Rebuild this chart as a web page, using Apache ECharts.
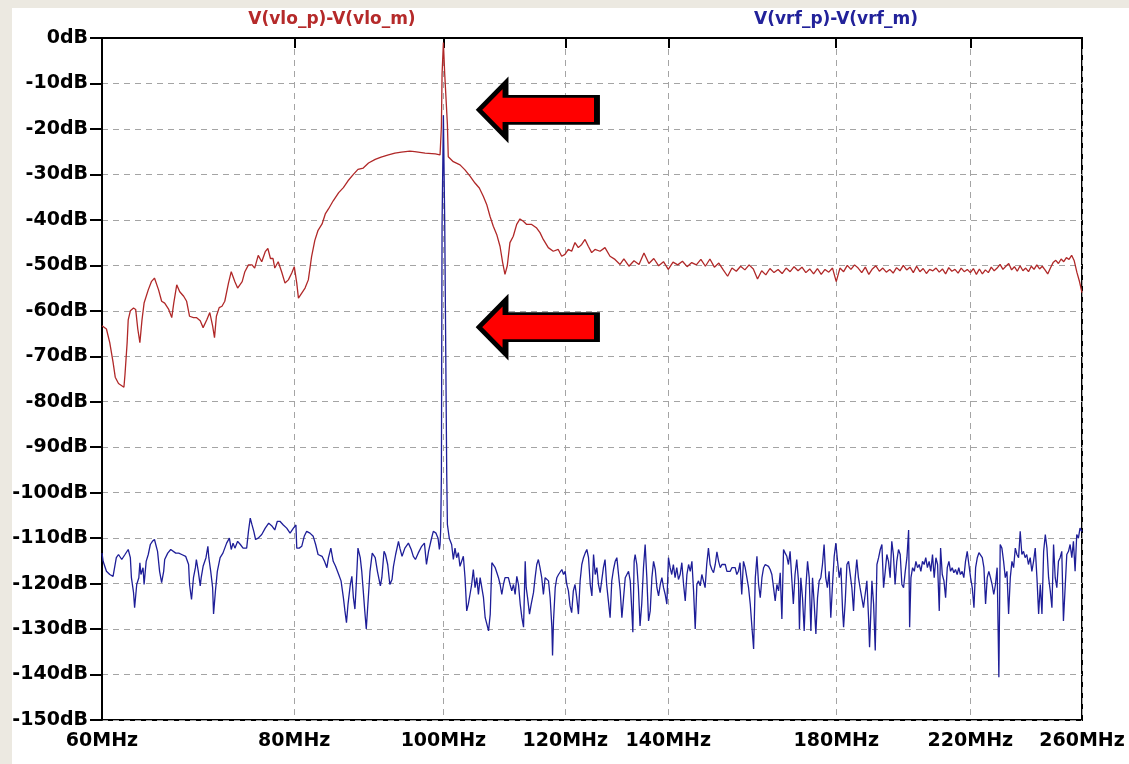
<!DOCTYPE html>
<html>
<head>
<meta charset="utf-8">
<script src="https://cdn.jsdelivr.net/npm/echarts@6/dist/echarts.min.js"></script>
<style>
  html, body { margin: 0; padding: 0; background: #ece9e1; }
  #chart { width: 1129px; height: 764px; }
</style>
</head>
<body>
<div id="chart"></div>
<script>
// Frequency axis ticks (MHz) and level axis range (dB)
const freqTicks = [60, 80, 100, 120, 140, 180, 220, 260];
const dbMin = -150, dbMax = 0, dbStep = 10;

// V(vlo_p)-V(vlo_m) : frequency (MHz) / level (dB)
const loFreq = [
  60.0, 60.4, 60.7, 61.0, 61.2, 61.5, 62.0, 62.1, 62.3, 62.4, 62.6, 62.9, 63.1, 63.3, 63.5, 63.7, 63.9, 64.3, 64.6, 64.9,
  65.3, 65.6, 65.9, 66.3, 66.6, 66.8, 67.1, 67.4, 67.8, 68.1, 68.4, 68.8, 69.1, 69.5, 69.8, 70.2, 70.5, 70.8, 71.0, 71.2,
  71.5, 71.8, 72.1, 72.5, 72.8, 73.2, 73.5, 74.0, 74.3, 74.7, 75.1, 75.4, 75.8, 76.2, 76.6, 76.9, 77.2, 77.5, 77.7, 78.1,
  78.5, 78.9, 79.3, 79.7, 80.0, 80.3, 80.5, 80.9, 81.3, 81.7, 82.1, 82.5, 82.9, 83.4, 83.8, 84.2, 84.8, 85.5, 86.1, 86.7,
  87.4, 88.0, 88.7, 89.4, 90.3, 91.1, 92.1, 93.0, 93.9, 95.1, 95.8, 97.3, 98.8, 99.5, 99.65, 99.7, 99.8, 100.0, 100.2, 100.5,
  100.6, 100.73, 101.49, 102.52, 103.28, 104.06, 104.84, 105.52, 106.15, 106.69, 107.22, 107.75, 108.30, 108.84, 109.27, 109.65, 110.03, 110.47, 111.02, 111.59,
  112.14, 112.70, 113.27, 114.12, 114.98, 115.55, 116.12, 116.99, 117.87, 118.75, 119.36, 119.95, 120.55, 121.16, 121.76, 122.37, 122.99, 123.60, 124.21, 124.84,
  125.46, 126.41, 127.35, 128.31, 129.27, 130.25,
  131, 132, 133, 134, 135, 136, 137, 138, 139, 140, 141, 142, 143, 144, 145, 146, 147, 148, 149, 150,
  151, 152, 153, 154, 155, 156, 157, 158, 159, 160, 161, 162, 163, 164, 165, 166, 167, 168, 169, 170,
  171, 172, 173, 174, 175, 176, 177, 178, 179, 180, 181, 182, 183, 184, 185, 186, 187, 188, 189, 190,
  191, 192, 193, 194, 195, 196, 197, 198, 199, 200, 201, 202, 203, 204, 205, 206, 207, 208, 209, 210,
  211, 212, 213, 214, 215, 216, 217, 218, 219, 220, 221, 222, 223, 224, 225, 226, 227, 228, 229, 230,
  231, 232, 233, 234, 235, 236, 237, 238, 239, 240, 241, 242, 243, 244, 245, 246, 247, 248, 249, 250,
  251, 252, 253, 254, 255, 256, 257, 258, 259, 260
];
const loDb = [
  -63.3, -64, -67, -71.3, -74.6, -76, -76.8, -74, -67, -62, -60, -59.4, -59.7, -64, -67, -62, -58.3, -55.4, -53.6, -52.8,
  -55.4, -57.9, -58.3, -59.7, -61.5, -58.3, -54.3, -55.8, -56.8, -57.9, -61.2, -61.5, -61.5, -62.2, -63.7, -61.9, -60.4, -63.3, -65.9, -61.2,
  -59.3, -59, -57.9, -53.9, -51.4, -53.6, -55, -53.6, -51.4, -49.9, -49.9, -50.6, -47.8, -49.2, -47, -46.3, -48.5, -48.5, -50.6, -49.2,
  -51.4, -53.9, -53.2, -51.7, -50.3, -53.9, -57.2, -56.1, -55, -53.2, -48.1, -44.5, -42.3, -40.9, -38.7, -37.6, -35.8, -34, -32.9, -31.4,
  -30, -28.9, -28.6, -27.5, -26.7, -26.2, -25.7, -25.3, -25.1, -24.9, -25, -25.3, -25.5, -25.7, -26.0, -19.5, -8, -1, -8, -8,
  -19, -26.1, -27.2, -27.9, -29, -30.4, -31.9, -33, -34.8, -36.6, -39.2, -41.4, -43.2, -45.8, -49.4, -52, -50.1, -45, -43.6, -41,
  -39.8, -40.3, -41, -41, -41.8, -42.8, -44.3, -46.1, -46.9, -46.5, -48, -47.6, -46.5, -46.9, -45, -46.1, -45.4, -44.3, -45.8, -47.2,
  -46.5, -46.9, -46.1, -48, -48.7, -49.8,
  -48.6, -50.2, -49.0, -49.8, -47.3, -49.6, -48.5, -50.1, -49.2, -50.9, -49.3, -49.9, -49.1, -50.3, -49.4, -49.9, -48.7, -50.2, -48.6, -50.4,
  -49.5, -51.0, -52.4, -50.6, -51.3, -50.2, -51.0, -49.9, -50.8, -53.0, -51.2, -52.1, -50.7, -51.6, -50.9, -51.8, -50.6, -51.4, -50.3, -51.2,
  -50.4, -51.6, -50.8, -51.9, -50.7, -52.0, -50.9, -51.5, -50.6, -53.6, -50.6, -51.4, -50.0, -50.9, -49.9, -50.6, -51.6, -50.4, -52.0, -50.8,
  -50.1, -51.3, -50.6, -51.5, -50.9, -51.7, -50.5, -51.2, -50.0, -51.0, -50.4, -51.6, -50.2, -51.4, -50.7, -51.8, -50.9, -51.2, -50.6, -51.5,
  -50.8, -51.9, -50.5, -51.3, -50.9, -51.7, -50.6, -51.4, -50.9, -51.6, -50.7, -52.0, -50.8, -51.9, -51.0, -51.6, -50.4, -51.2, -50.6, -49.8,
  -50.9, -50.2, -49.6, -51.0, -50.3, -51.3, -50.1, -51.2, -50.6, -51.4, -50.2, -50.9, -49.9, -50.8, -50.2, -51.0, -51.9, -50.6, -49.4, -48.9,
  -49.6, -48.6, -49.2, -48.3, -48.7, -47.8, -49.0, -51.5, -53.5, -56.0
];

// V(vrf_p)-V(vrf_m) : frequency (MHz) / level (dB)
const rfFreq = [
  60.0, 60.1, 60.4, 60.7, 61.0, 61.3, 61.5, 61.8, 62.1, 62.4, 62.6, 62.7, 62.9, 63.0, 63.2, 63.4, 63.5, 63.6, 63.8, 63.9,
  64.1, 64.3, 64.5, 64.7, 64.9, 65.2, 65.4, 65.6, 65.8, 65.9, 66.2, 66.5, 67.0, 67.3, 67.6, 68.0, 68.3, 68.4, 68.6, 68.8,
  69.0, 69.1, 69.3, 69.5, 69.6, 69.8, 70.1, 70.3, 70.4, 70.6, 70.8, 70.9, 71.1, 71.3, 71.6, 71.9, 72.3, 72.6, 72.8, 73.0,
  73.2, 73.5, 73.8, 74.1, 74.5, 74.7, 74.9, 75.1, 75.3, 75.5, 75.8, 76.2, 76.6, 77.0, 77.4, 77.7, 78.0, 78.3, 78.7, 79.1,
  79.5, 79.9, 80.2, 80.3, 80.6, 80.9, 81.2, 81.5, 81.9, 82.3, 82.6, 82.9, 83.4, 83.7, 84.0, 84.2, 84.5, 84.8, 85.1, 85.5,
  85.8, 86.1, 86.3, 86.5, 86.7, 87.0, 87.2, 87.4, 87.6, 87.8, 88.0, 88.3, 88.5, 88.7, 88.9, 89.1, 89.4, 89.6, 89.9, 90.3,
  90.6, 91.0, 91.2, 91.5, 91.7, 92.0, 92.3, 92.6, 92.8, 93.1, 93.5, 93.7, 94.0, 94.4, 94.9, 95.3, 95.6, 95.9, 96.3, 96.8,
  97.2, 97.5, 97.8, 98.2, 98.5, 98.9, 99.2, 99.4, 99.5,
  99.6, 99.7, 99.8, 100.0, 100.2, 100.4, 100.5, 100.6,
  100.89, 101.24, 101.50, 101.75, 102.00, 102.26, 102.51, 102.77, 103.03, 103.29, 103.55, 103.80, 104.06, 104.32, 104.58, 104.85, 105.11, 105.38, 105.65, 105.91,
  106.18, 106.45, 106.72, 106.99, 107.26, 107.52, 107.79, 108.06, 108.33, 108.59, 108.86, 109.13, 109.40, 109.66, 109.93, 110.21, 110.49, 110.77, 111.05, 111.33,
  111.61, 111.89, 112.18, 112.46, 112.74, 113.02, 113.19, 113.42, 113.75, 114.04, 114.43, 114.71, 114.99, 115.27, 115.55, 115.85, 116.14, 116.44, 116.73, 117.03,
  117.32, 117.62, 117.74, 117.91, 118.21, 118.50, 118.80, 119.09, 119.39, 119.69, 119.98, 120.28, 120.57, 120.87, 121.16, 121.46, 121.77, 122.08, 122.39, 122.70,
  123.01, 123.32, 123.63, 123.94, 124.25, 124.57, 124.88, 125.19, 125.50, 125.81, 126.12, 126.43, 126.74, 127.05, 127.36, 127.67, 128.00, 128.33, 128.65, 128.98,
  129.31, 129.63, 129.96, 130.29, 130.61, 130.94, 131.27, 131.59, 131.92, 132.25, 132.57, 132.77, 133.03, 133.23, 133.56, 133.88, 134.21, 134.55, 134.90, 135.24,
  135.58, 135.93, 136.27, 136.61, 136.95, 137.30, 137.64, 137.98, 138.33, 138.67, 139.01, 139.36, 139.70, 140.04, 140.39, 140.73, 141.07, 141.43, 141.79, 142.15,
  142.51, 142.87, 143.24, 143.60, 143.96, 144.32, 144.68, 145.04, 145.40, 145.76, 146.12, 146.48, 146.85, 147.21, 147.57, 147.93, 148.29, 148.67, 149.05, 149.43,
  149.81, 150.19, 150.57, 150.95, 151.33, 151.70, 152.08, 152.46, 152.84, 153.22, 153.60, 153.98, 154.36, 154.74, 155.12, 155.49, 155.87, 156.27, 156.67, 157.07,
  157.47, 157.87, 158.27, 158.67, 159.07, 159.47, 159.86, 160.26, 160.66, 161.06, 161.46, 161.86,
  162.65, 163.06, 163.47, 163.88, 164.29, 164.71, 165.12, 165.53, 165.94, 166.35, 166.76, 167.17, 167.58, 167.99, 168.40, 168.81, 169.24, 169.67, 170.11, 170.36,
  170.71, 171.14, 171.57, 172.00, 172.44, 172.87, 173.30, 173.73, 174.17, 174.60, 175.03, 175.46, 175.90, 176.33, 176.76, 177.19, 177.63, 178.09, 178.54, 179.00,
  179.45, 179.90, 180.36, 180.81, 181.27, 181.72, 181.99, 182.45, 182.90, 183.35, 183.81, 184.26, 184.72, 185.17, 185.62, 186.08, 186.53, 187.01, 187.48, 187.96,
  188.44, 188.92, 189.20, 189.58, 189.87, 190.35, 190.82, 191.30, 191.78, 192.26, 192.73, 193.21, 193.69, 194.16, 194.64, 195.12, 195.60, 196.07, 196.57, 197.07,
  197.58, 198.08, 198.58, 199.08, 199.58, 200.08, 200.59, 200.89, 201.29, 201.79, 202.29, 202.79, 203.29, 203.80, 204.30, 204.80, 205.30, 205.80, 206.31, 206.84,
  207.36, 207.89, 208.42, 208.95, 209.47, 210.00, 210.42, 210.95, 211.48, 212.00, 212.53, 213.06, 213.58, 214.11, 214.64, 215.16, 215.69, 216.22, 216.75, 217.31,
  217.86, 218.41, 218.97, 219.52, 220.08, 220.63, 221.19, 221.74, 222.30, 222.85, 223.40, 223.96, 224.51, 225.07, 225.62, 226.17, 226.73, 227.28, 227.84, 228.42,
  229.00, 229.59, 230.05, 230.63, 231.22, 231.80, 232.38, 232.96, 233.55, 234.13, 234.71, 235.30, 235.88, 236.46, 237.04, 237.63, 238.21, 238.79, 239.37, 239.98,
  240.60, 241.21, 241.82, 242.43, 243.05, 243.66, 244.27, 244.88, 245.50, 246.11, 246.72, 247.33, 247.94, 248.56, 249.17, 249.78, 250.39, 251.01, 251.62, 252.25,
  252.88, 253.52, 254.15, 254.79, 255.42, 256.06, 256.69, 257.33, 257.96, 258.60, 259.23, 259.87, 260.00
];
const rfDb = [
  -113.3, -115.1, -117.3, -118, -118.4, -114.3, -113.6, -114.7, -113.6, -112.5, -114.3, -118.7, -122, -125.3, -120.2, -118.7, -115.4, -118, -116.5, -120.2,
  -115.1, -113.6, -111.4, -110.7, -110.3, -112.9, -117.3, -119.8, -117.3, -114.7, -113.3, -112.5, -113.3, -113.3, -113.6, -114, -115.8, -120.2, -123.5, -118.7,
  -116.5, -114.7, -117.3, -120.5, -118.7, -116.2, -114.3, -111.8, -114.3, -117.3, -120.9, -126.7, -121.6, -117.3, -114.3, -113.3, -111.1, -110, -112.5, -111.1,
  -112.2, -110.7, -111.4, -112.2, -112.2, -108.5, -105.6, -107.1, -108.5, -110.3, -110, -109.2, -107.8, -106.7, -107.4, -108.2, -106.3, -106.3, -107.1, -107.8,
  -108.9, -107.8, -107.1, -112.2, -112.2, -111.8, -109.6, -108.5, -108.9, -109.6, -111.4, -113.6, -114, -115.1, -116.5, -114.3, -112.2, -115.1, -116.2, -118,
  -119.4, -123.1, -126, -128.6, -124.5, -120.2, -118.4, -123.1, -125.6, -119.4, -112.2, -114.3, -117.3, -121.6, -126, -130, -122.4, -117.3, -113.3, -114.3,
  -117.3, -120.5, -118.7, -112.9, -113.6, -115.8, -120.2, -119.1, -116.2, -113.6, -110.7, -112.2, -114, -112.2, -111.1, -112.5, -114, -114.7, -113.3, -111.8,
  -111.1, -115.8, -112.9, -110.3, -108.5, -108.9, -110, -112.5, -111.4,
  -108, -96, -41, -17, -41, -41, -96, -107,
  -110.1, -111.4, -114.7, -112.2, -114.3, -113.2, -116.2, -115.1, -114, -118.7, -126, -124.5, -122.4, -120.2, -116.9, -120.9, -118.7, -122.4, -118.7, -118.4,
  -123.1, -127.5, -128.9, -130.4, -126.7, -115.4, -115.8, -116.5, -117.6, -118.7, -120.2, -122.4, -120.2, -118.7, -118.4, -118.7, -120.2, -121.6, -120.2, -122.4,
  -118.4, -120.2, -124.5, -127.5, -129.6, -115.1, -120.9, -123.1, -126.7, -124.5, -122, -118.7, -115.8, -114.7, -116.5, -118.7, -122.4, -118.7, -118.4, -119.4,
  -123.1, -129.6, -135.8, -128.2, -120.9, -118.7, -118, -117.6, -116.9, -118, -117.3, -120.2, -121.6, -124.9, -126.4, -121.6, -120.2, -123.1, -126.7, -119.4,
  -115.8, -114.3, -113.3, -112.5, -114.3, -120.2, -122.7, -113.6, -118, -116.5, -120.2, -122, -122.4, -116.5, -114.7, -120.2, -123.8, -127.5, -119.4, -116.9,
  -115.1, -114.3, -118, -121.6, -127.5, -123.1, -118.7, -118, -117.3, -119.4, -126, -130.7, -115.1, -113.6, -115.8, -120.9, -129.3, -124.5, -116.5, -111.4,
  -118.7, -128.2, -126, -118.7, -115.1, -116.9, -120.9, -122.7, -120.2, -118.7, -120.9, -122.4, -124.5, -114.3, -116.5, -118, -115.8, -118.7, -116.5, -119.1,
  -118, -115.4, -120.2, -123.8, -118, -115.8, -117.3, -115.1, -121.6, -130, -120.2, -119.4, -120.5, -118, -117.6, -120.9, -115.8, -112.2, -115.8, -116.9,
  -117.6, -115.8, -113, -115.1, -116.5, -115.8, -116.2, -115.8, -117.3, -116.9, -117.3, -116.5, -116.2, -116.5, -118, -117.3, -115.4, -122.4, -115.1, -116.5,
  -118.7, -120.9, -124.5, -129.6, -134.4, -118.7, -114, -120.2, -123.1, -118.7, -116.5, -115.8,
  -116.2, -116.9, -118, -120.9, -123.8, -120.2, -121.6, -117.6, -127.8, -112.5, -113.3, -114, -115.8, -112.9, -118.7, -124.5, -118, -114.7, -119.4, -130,
  -118.7, -123.1, -130.4, -120.9, -115.1, -118.7, -130.4, -118.7, -124.5, -131.1, -123.1, -119.4, -118.7, -115.8, -111.4, -118.7, -120.9, -117.3, -127.5, -120.2,
  -114, -111.1, -115.1, -118.7, -116.5, -126, -129.6, -123.8, -115.8, -115.1, -115.4, -120.9, -126, -118.7, -114.7, -118.7, -120.9, -123.1, -125.3, -122.4,
  -119.4, -127.5, -134, -126, -119.4, -124.5, -134.7, -115.8, -114.3, -112.5, -111.4, -120.9, -117.3, -113.6, -115.1, -118.7, -110.7, -113.6, -120.2, -115.1,
  -112.5, -113.6, -120.2, -120.9, -117.3, -114.3, -108.2, -129.6, -118.7, -116.5, -117.3, -115.1, -116.5, -115.8, -117.3, -115.1, -115.8, -114.3, -116.5, -115.1,
  -117.3, -113.6, -118.7, -114.3, -115.8, -126, -112.2, -118, -119.4, -123.1, -116.5, -115.1, -117.3, -116.5, -117.6, -116.9, -118, -116.5, -118, -117.3,
  -118.7, -115.1, -112.9, -115.8, -118.7, -120.9, -125.3, -116.5, -114.3, -113.2, -113.6, -114.3, -116.5, -124.5, -118.7, -117.3, -118.7, -120.2, -122.4, -120.2,
  -116.5, -140.6, -111.4, -112.2, -115.1, -118.7, -117.3, -126.7, -118.7, -115.1, -116.5, -112.2, -113.6, -114.3, -108.5, -113.6, -112.9, -114.3, -113.6, -115.8,
  -114.3, -117.3, -115.1, -112.2, -118.7, -126.7, -120.2, -126.7, -112.9, -109.2, -112.2, -118.7, -121.6, -125.3, -111.4, -118.7, -120.9, -115.1, -114.3, -112.9,
  -128.2, -120.9, -113.6, -112.9, -111.4, -114.3, -110.7, -117.3, -109.2, -110, -107.8, -108.5, -108.2
];

// Annotation arrows (centre of each arrow, in MHz / dB)
const arrowAt = [[115.2, -15.8], [115.2, -63.6]];

const loData = loFreq.map((f, i) => [f, loDb[i]]);
const rfData = rfFreq.map((f, i) => [f, rfDb[i]]);

const LABEL_FONT = '"DejaVu Sans", sans-serif';
const gridDash = { color: '#a4a4a4', width: 1, type: [6, 5] };

const chart = echarts.init(document.getElementById('chart'), null, { renderer: 'canvas' });
chart.setOption({
  animation: false,
  backgroundColor: '#ece9e1',
  graphic: [
    { type: 'rect', silent: true, z: -100, shape: { x: 12, y: 8, width: 1117, height: 756 }, style: { fill: '#ffffff' } },
    { type: 'text', x: 332, y: 20, style: { text: 'V(vlo_p)-V(vlo_m)', fill: '#b52a2a', font: 'bold 17px ' + LABEL_FONT, align: 'center', verticalAlign: 'middle', textAlign: 'center', textVerticalAlign: 'middle' } },
    { type: 'text', x: 836, y: 20, style: { text: 'V(vrf_p)-V(vrf_m)', fill: '#22229a', font: 'bold 17px ' + LABEL_FONT, align: 'center', verticalAlign: 'middle', textAlign: 'center', textVerticalAlign: 'middle' } }
  ],
  grid: { left: 102, right: 47, top: 38, bottom: 44, show: true, borderColor: '#000', borderWidth: 2, backgroundColor: '#ffffff' },
  xAxis: {
    type: 'log', logBase: 10, min: freqTicks[0], max: freqTicks[freqTicks.length - 1],
    axisLine: { show: true, lineStyle: { color: '#000', width: 2 } },
    axisTick: { show: true, customValues: freqTicks, length: 10, lineStyle: { color: '#000', width: 2 } },
    axisLabel: {
      customValues: freqTicks, margin: 12, color: '#000',
      fontFamily: LABEL_FONT, fontWeight: 'bold', fontSize: 19,
      formatter: v => Math.round(v) + 'MHz'
    },
    splitLine: { show: true, lineStyle: gridDash },
    minorTick: { show: false }, minorSplitLine: { show: false }
  },
  yAxis: {
    type: 'value', min: dbMin, max: dbMax, interval: dbStep,
    axisLine: { show: true, lineStyle: { color: '#000', width: 2 } },
    axisTick: { show: true, length: 12, lineStyle: { color: '#000', width: 2 } },
    axisLabel: { margin: 14, color: '#000', fontFamily: LABEL_FONT, fontWeight: 'bold', fontSize: 19, formatter: v => v + 'dB' },
    splitLine: { show: true, lineStyle: gridDash }
  },
  series: [
    {
      name: 'V(vlo_p)-V(vlo_m)', type: 'line', data: loData, showSymbol: false,
      lineStyle: { color: '#b02828', width: 1.3 }, itemStyle: { color: '#b02828' },
      markPoint: {
        symbol: 'path://M0,28 L27,0 L27,14 L120,14 L120,42 L27,42 L27,56 Z',
        symbolSize: [118, 54], symbolKeepAspect: false,
        itemStyle: { color: '#ff0000', borderColor: '#000', borderWidth: 4 },
        label: { show: false },
        data: arrowAt.map(c => ({ coord: c }))
      }
    },
    {
      name: 'V(vrf_p)-V(vrf_m)', type: 'line', data: rfData, showSymbol: false,
      lineStyle: { color: '#1e1e98', width: 1.3 }, itemStyle: { color: '#1e1e98' }
    }
  ]
});
</script>
</body>
</html>
